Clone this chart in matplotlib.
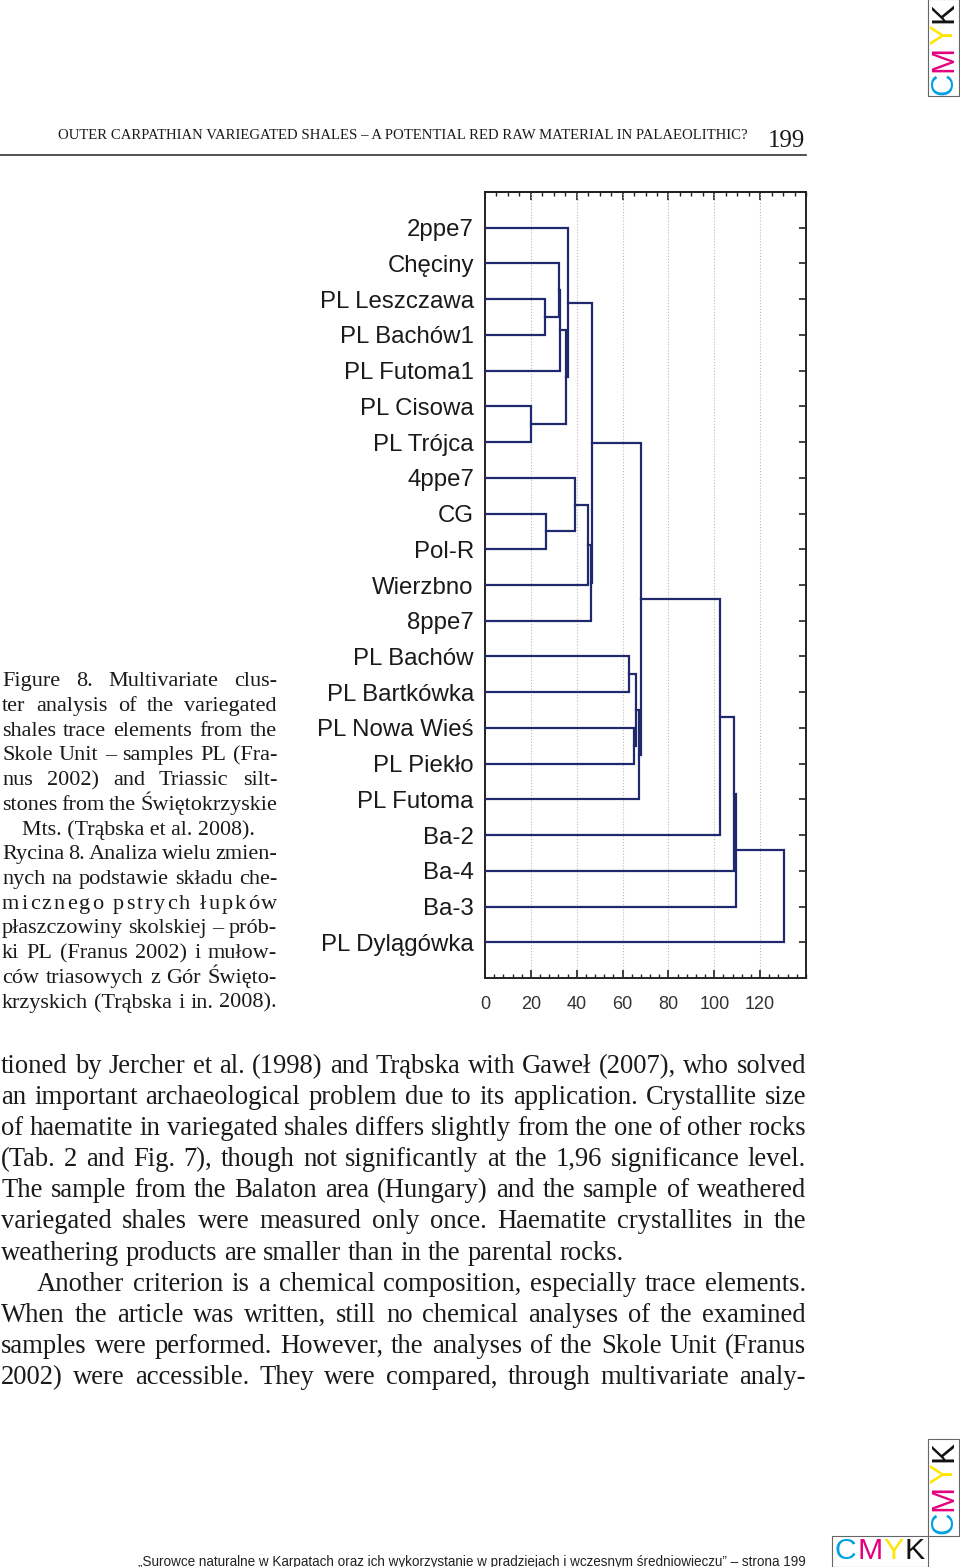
import matplotlib
matplotlib.use('Agg')
import matplotlib.pyplot as plt
from matplotlib.patches import Rectangle
from matplotlib.ticker import MultipleLocator

# leaves, top to bottom
labels = ['2ppe7', 'Chęciny', 'PL Leszczawa', 'PL Bachów1', 'PL Futoma1', 'PL Cisowa', 'PL Trójca',
          '4ppe7', 'CG', 'Pol-R', 'Wierzbno', '8ppe7', 'PL Bachów', 'PL Bartkówka', 'PL Nowa Wieś',
          'PL Piekło', 'PL Futoma', 'Ba-2', 'Ba-4', 'Ba-3', 'PL Dylągówka']

# joins: new cluster name, the two members, linkage distance
nodes = ['A', 'B', 'C', 'D', 'E', 'F', 'H', 'I', 'J', 'L',
         'M', 'N', 'O', 'P', 'Q', 'R', 'S', 'T', 'U', 'V']
left = ['PL Leszczawa', 'Chęciny', 'B', 'PL Cisowa', 'C', '2ppe7', 'CG', '4ppe7', 'I', 'J',
        'F', 'PL Bachów', 'PL Nowa Wieś', 'N', 'P', 'M', 'R', 'S', 'T', 'U']
right = ['PL Bachów1', 'A', 'PL Futoma1', 'PL Trójca', 'D', 'E', 'Pol-R', 'H', 'Wierzbno', '8ppe7',
         'L', 'PL Bartkówka', 'PL Piekło', 'O', 'PL Futoma', 'Q', 'Ba-2', 'Ba-4', 'Ba-3', 'PL Dylągówka']
dist = [26.3, 32.3, 32.6, 20.0, 35.3, 36.2, 26.7, 39.3, 45.1, 46.4,
        46.7, 62.6, 65.2, 65.8, 67.2, 68.1, 102.3, 108.7, 109.3, 130.3]

xticks = [0, 20, 40, 60, 80, 100, 120]

header = 'OUTER CARPATHIAN VARIEGATED SHALES – A POTENTIAL RED RAW MATERIAL IN PALAEOLITHIC?'
page_no = '199'
footer = '„Surowce naturalne w Karpatach oraz ich wykorzystanie w pradziejach i wczesnym średniowieczu” – strona 199'

caption = ['Figure 8. Multivariate clus-',
           'ter analysis of the variegated',
           'shales trace elements from the',
           'Skole Unit – samples PL (Fra-',
           'nus 2002) and Triassic silt-',
           'stones from the Świętokrzyskie',
           'Mts. (Trąbska et al. 2008).',
           'Rycina 8. Analiza wielu zmien-',
           'nych na podstawie składu che-',
           'micznego pstrych łupków',
           'płaszczowiny skolskiej – prób-',
           'ki PL (Franus 2002) i mułow-',
           'ców triasowych z Gór Święto-',
           'krzyskich (Trąbska i in. 2008).']

body = ['tioned by Jercher et al. (1998) and Trąbska with Gaweł (2007), who solved',
        'an important archaeological problem due to its application. Crystallite size',
        'of haematite in variegated shales differs slightly from the one of other rocks',
        '(Tab. 2 and Fig. 7), though not significantly at the 1,96 significance level.',
        'The sample from the Balaton area (Hungary) and the sample of weathered',
        'variegated shales were measured only once. Haematite crystallites in the',
        'weathering products are smaller than in the parental rocks.',
        'Another criterion is a chemical composition, especially trace elements.',
        'When the article was written, still no chemical analyses of the examined',
        'samples were performed. However, the analyses of the Skole Unit (Franus',
        '2002) were accessible. They were compared, through multivariate analy-']

serif = 'Liberation Serif'
sans = 'Liberation Sans'
ink = '#1a1a1a'
navy = '#20286e'

fig = plt.figure(figsize=(9.6, 15.67), dpi=100)
fig.patch.set_facecolor('white')
rend = fig.canvas.get_renderer()

# page overlay in pixel coordinates
ov = fig.add_axes([0, 0, 1, 1])
ov.set_xlim(0, 960)
ov.set_ylim(1567, 0)
ov.axis('off')


def width_of(t):
    return t.get_window_extent(rend).width


def fit_text(x0, x1, y, s, size, family, **kw):
    t = ov.text(x0, y, s, fontsize=size, family=family, va='baseline', ha='left', **kw)
    t.set_fontsize(size * (x1 - x0) / width_of(t))
    return t


def set_line(x0, x1, y, s, size, mode='words'):
    if mode == 'chars':
        toks = list(s)
    else:
        toks = s.split(' ')
    arts, ws = [], []
    for tk in toks:
        if tk == ' ':
            arts.append(None)
            ws.append(size * 1.389 * 0.25)
            continue
        a = ov.text(x0, y, tk, fontsize=size, family=serif, color=ink, va='baseline', ha='left')
        arts.append(a)
        ws.append(width_of(a))
    if mode == 'left':
        gap = size * 1.389 * 0.25
    else:
        gap = (x1 - x0 - sum(ws)) / (len(toks) - 1)
    x = x0
    for a, w in zip(arts, ws):
        if a is not None:
            a.set_x(x)
        x += w + gap


def cmyk_mark(start, end, across, vertical):
    # letters sized so that the word fills the box from start to end
    cmyk = [('C', '#00a0e3'), ('M', '#e4007c'), ('Y', '#ffe600'), ('K', '#111111')]
    probe = [ov.text(0, 0, ch, fontsize=20, family=sans) for ch, _ in cmyk]
    ws = [width_of(p) for p in probe]
    for p in probe:
        p.remove()
    gap = 1.0
    size = 20 * (abs(end - start) - 3 * gap) / sum(ws)
    ws = [w * size / 20 for w in ws]
    pos = 0
    for (ch, col), w in zip(cmyk, ws):
        c = pos + w / 2
        if vertical:
            ov.text(across, start - c, ch, fontsize=size, family=sans, color=col, rotation=90,
                    ha='center', va='center')
        else:
            ov.text(start + c, across, ch, fontsize=size, family=sans, color=col,
                    ha='center', va='center')
        pos += w + gap


# running head
fit_text(58, 750, 139, header, 10, serif, color=ink)
ov.text(805, 147, page_no, fontsize=18, family=serif, color=ink, va='baseline', ha='right')
ov.plot([0, 806], [155, 155], color='#444444', lw=1.3)

# caption
for i, s in enumerate(caption):
    y = 686 + 24.75 * i
    if i == 6:
        ov.text(139, y, s, fontsize=15.8, family=serif, color=ink, va='baseline', ha='center')
    elif i == 9:
        set_line(2, 277, y, s, 16, mode='chars')
    else:
        set_line(2, 277, y, s, 16)

# body text
for i, s in enumerate(body):
    y = 1073 + 31.1 * i
    if i == 6:
        set_line(1, 806, y, s, 19.2, mode='left')
    elif i == 7:
        set_line(37, 806, y, s, 19.2)
    else:
        set_line(1, 806, y, s, 19.2)

fit_text(138, 808, 1566, footer, 10, sans, color='#222222')

# CMYK marks
for (r_x, r_y, r_w, r_h) in [(928, -1, 31, 97), (928, 1439, 31, 97), (832, 1536, 96, 31)]:
    ov.add_patch(Rectangle((r_x, r_y), r_w, r_h, fill=False, ec='#666666', lw=0.8))
cmyk_mark(95, 2, 944, True)
cmyk_mark(1534, 1441, 944, True)
cmyk_mark(835, 925, 1551, False)

# dendrogram
ax = fig.add_axes([485 / 960, 1 - 978 / 1567, 321 / 960, 786 / 1567])
ypos = {lab: i + 1 for i, lab in enumerate(labels)}
hgt = {lab: 0.0 for lab in labels}
for n, a, b, d in zip(nodes, left, right, dist):
    ya, yb = ypos[a], ypos[b]
    ax.plot([hgt[a], d, d, hgt[b]], [ya, ya, yb, yb], color=navy, lw=1.6,
            solid_joinstyle='miter', zorder=3)
    ypos[n] = (ya + yb) / 2
    hgt[n] = d

ax.set_xlim(0, 140)
ax.set_ylim(22, 0)
ax.set_yticks(range(1, 22))
ax.set_yticklabels(labels, fontsize=17.3, family=sans, color='#1a1a1a')
ax.tick_params(axis='y', direction='in', length=5, width=1.2, left=True, right=True, pad=8,
               color='#222222')
ax.set_xticks(xticks)
ax.set_xticklabels([str(v) for v in xticks], fontsize=13, family=sans, color='#333333')
ax.xaxis.set_minor_locator(MultipleLocator(4))
ax.tick_params(axis='x', which='major', direction='in', length=6, width=1.2, pad=13,
               color='#222222', top=False)
ax.tick_params(axis='x', which='minor', direction='in', length=3, width=1.0,
               color='#222222', top=False)
top = ax.secondary_xaxis('top')
top.set_xticks(xticks)
top.xaxis.set_minor_locator(MultipleLocator(5))
top.tick_params(which='major', direction='in', length=6, width=1.2, labeltop=False, color='#222222')
top.tick_params(which='minor', direction='in', length=3, width=1.0, color='#222222')
top.spines['top'].set_linewidth(1.4)
ax.grid(axis='x', which='major', linestyle=':', color='#bbbbbb', lw=0.8)
for sp in ax.spines.values():
    sp.set_linewidth(1.4)
    sp.set_color('#222222')

fig.savefig('out.png', dpi=100)
